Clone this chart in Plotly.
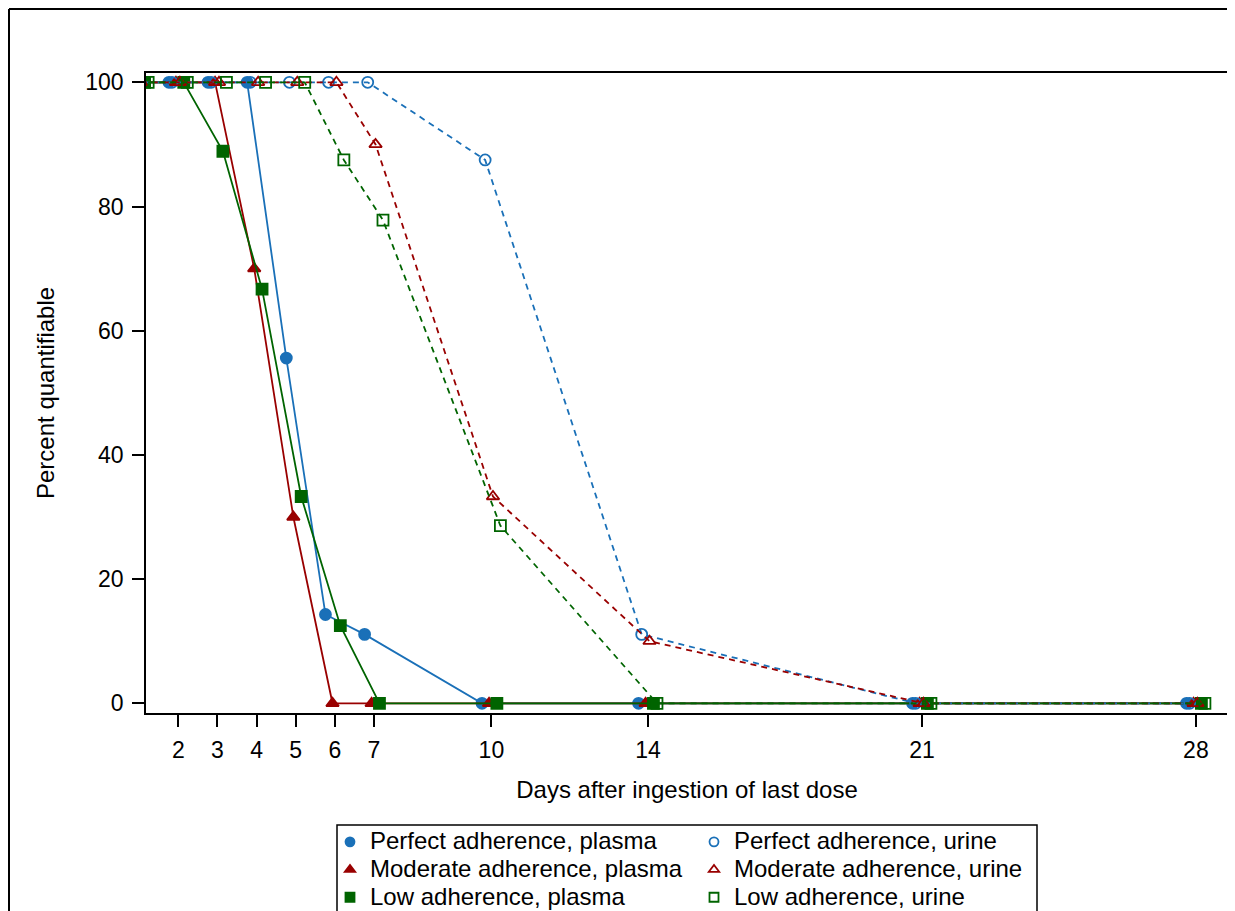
import plotly.graph_objects as go

days = [1, 2, 3, 4, 5, 6, 7, 10, 14, 21, 28]
tick_days = [2, 3, 4, 5, 6, 7, 10, 14, 21, 28]
y_ticks = [0, 20, 40, 60, 80, 100]

perfect_plasma = [100, 100, 100, 100, 55.6, 14.3, 11.1, 0, 0, 0, 0]
moderate_plasma = [100, 100, 100, 70, 30, 0, 0, 0, 0, 0, 0]
low_plasma = [100, 100, 88.9, 66.7, 33.3, 12.5, 0, 0, 0, 0, 0]
perfect_urine = [100, 100, 100, 100, 100, 100, 100, 87.5, 11.1, 0, 0]
moderate_urine = [100, 100, 100, 100, 100, 100, 90, 33.3, 10, 0, 0]
low_urine = [100, 100, 100, 100, 100, 87.5, 77.8, 28.6, 0, 0, 0]

# horizontal jitter (days) used in the original to separate series
jitter = {
    "pp": -0.24, "pu": -0.16, "mp": -0.06,
    "mu": 0.04, "lp": 0.14, "lu": 0.23,
}

BLUE = "#1a70b8"
RED = "#990000"
GREEN = "#006400"

# (name, values, jitter key, colour, symbol, dashed?, legend column)
series = [
    ("Perfect adherence, plasma", perfect_plasma, "pp", BLUE, "circle", False, "legend"),
    ("Moderate adherence, plasma", moderate_plasma, "mp", RED, "triangle-up", False, "legend"),
    ("Low adherence, plasma", low_plasma, "lp", GREEN, "square", False, "legend"),
    ("Perfect adherence, urine", perfect_urine, "pu", BLUE, "circle-open", True, "legend2"),
    ("Moderate adherence, urine", moderate_urine, "mu", RED, "triangle-up-open", True, "legend2"),
    ("Low adherence, urine", low_urine, "lu", GREEN, "square-open", True, "legend2"),
]

fig = go.Figure()
for name, vals, key, color, symbol, dashed, leg in series:
    fig.add_trace(go.Scatter(
        x=[d + jitter[key] for d in days],
        y=vals,
        name=name,
        mode="lines+markers",
        line=dict(color=color, width=1.8, dash="6px,5px" if dashed else "solid"),
        marker=dict(symbol=symbol, size=11, color=color,
                    line=dict(color=color, width=1.8)),
        cliponaxis=True,
        showlegend=False,
    ))
# legend entries: markers only, as in the original
for name, vals, key, color, symbol, dashed, leg in series:
    fig.add_trace(go.Scatter(
        x=[None], y=[None], mode="markers",
        name='<span style="font-size:24px">' + name + "</span>",
        marker=dict(symbol=symbol, size=9, color=color,
                    line=dict(color=color, width=1.8)),
        showlegend=True, legend=leg,
    ))

FONT = "Liberation Sans, Arial, sans-serif"
OFF = 8  # the page body adds an 8px margin; layout is given in page pixels
W, H = 1235 - OFF, 911 - OFF
PL, PR, PT, PB = 146 - OFF, 1228 - OFF, 73 - OFF, 713 - OFF  # plot area, figure px


def px_x(p):  # page pixel -> paper x
    return (p - OFF - PL) / (PR - PL)


def px_y(p):  # page pixel -> paper y
    return (PB - (p - OFF)) / (PB - PT)


legend_common = dict(
    orientation="v",
    xref="container", yref="container",
    xanchor="left", yanchor="top",
    y=1 - (823 - OFF) / H,
    borderwidth=0, bgcolor="rgba(0,0,0,0)",
    font=dict(family=FONT, size=19, color="black"),
    itemsizing="trace", traceorder="normal",
    tracegroupgap=0,
)

fig.update_layout(
    width=W, height=H,
    margin=dict(l=PL, r=W - PR, t=PT, b=H - PB, autoexpand=False),
    paper_bgcolor="white", plot_bgcolor="white",
    font=dict(family=FONT, size=23, color="black"),
    showlegend=True,
    legend=dict(x=(330 - OFF) / W, **legend_common),
    legend2=dict(x=(694 - OFF) / W, **legend_common),
    xaxis=dict(
        range=[1.175, 28.82],
        tickmode="array", tickvals=tick_days, ticktext=[str(t) for t in tick_days],
        ticks="outside", ticklen=12, tickwidth=1.5, tickcolor="black",
        showgrid=False, zeroline=False, automargin=False,
        showline=True, linecolor="black", linewidth=1.5, mirror=True,
        tickfont=dict(size=23), ticklabelstandoff=4,
        title=dict(text="Days after ingestion of last dose", font=dict(size=24), standoff=19),
    ),
    yaxis=dict(
        range=[-1.56, 101.5],
        tickmode="array", tickvals=y_ticks,
        ticks="outside", ticklen=12, tickwidth=1.5, tickcolor="black",
        showgrid=False, zeroline=False, automargin=False,
        showline=True, linecolor="black", linewidth=1.5, mirror=True,
        tickfont=dict(size=23), ticklabelstandoff=4,
    ),
    annotations=[dict(
        text="Percent quantifiable", xref="paper", yref="paper",
        x=px_x(45), y=0.5, xanchor="center", yanchor="middle",
        textangle=-90, showarrow=False, font=dict(size=24, family=FONT),
    )],
    shapes=[
        # outer frame of the graph region (top and left edges visible)
        dict(type="line", xref="paper", yref="paper",
             x0=px_x(9), x1=px_x(1240), y0=px_y(9), y1=px_y(9),
             line=dict(color="black", width=2), layer="below"),
        dict(type="line", xref="paper", yref="paper",
             x0=px_x(9), x1=px_x(9), y0=px_y(9), y1=px_y(920),
             line=dict(color="black", width=2), layer="below"),
        # legend box
        dict(type="rect", xref="paper", yref="paper",
             x0=px_x(337), x1=px_x(1037), y0=px_y(960), y1=px_y(825),
             line=dict(color="black", width=1.5), fillcolor="rgba(0,0,0,0)",
             layer="below"),
    ],
)

fig.write_html("out.html", config={"displayModeBar": False})
